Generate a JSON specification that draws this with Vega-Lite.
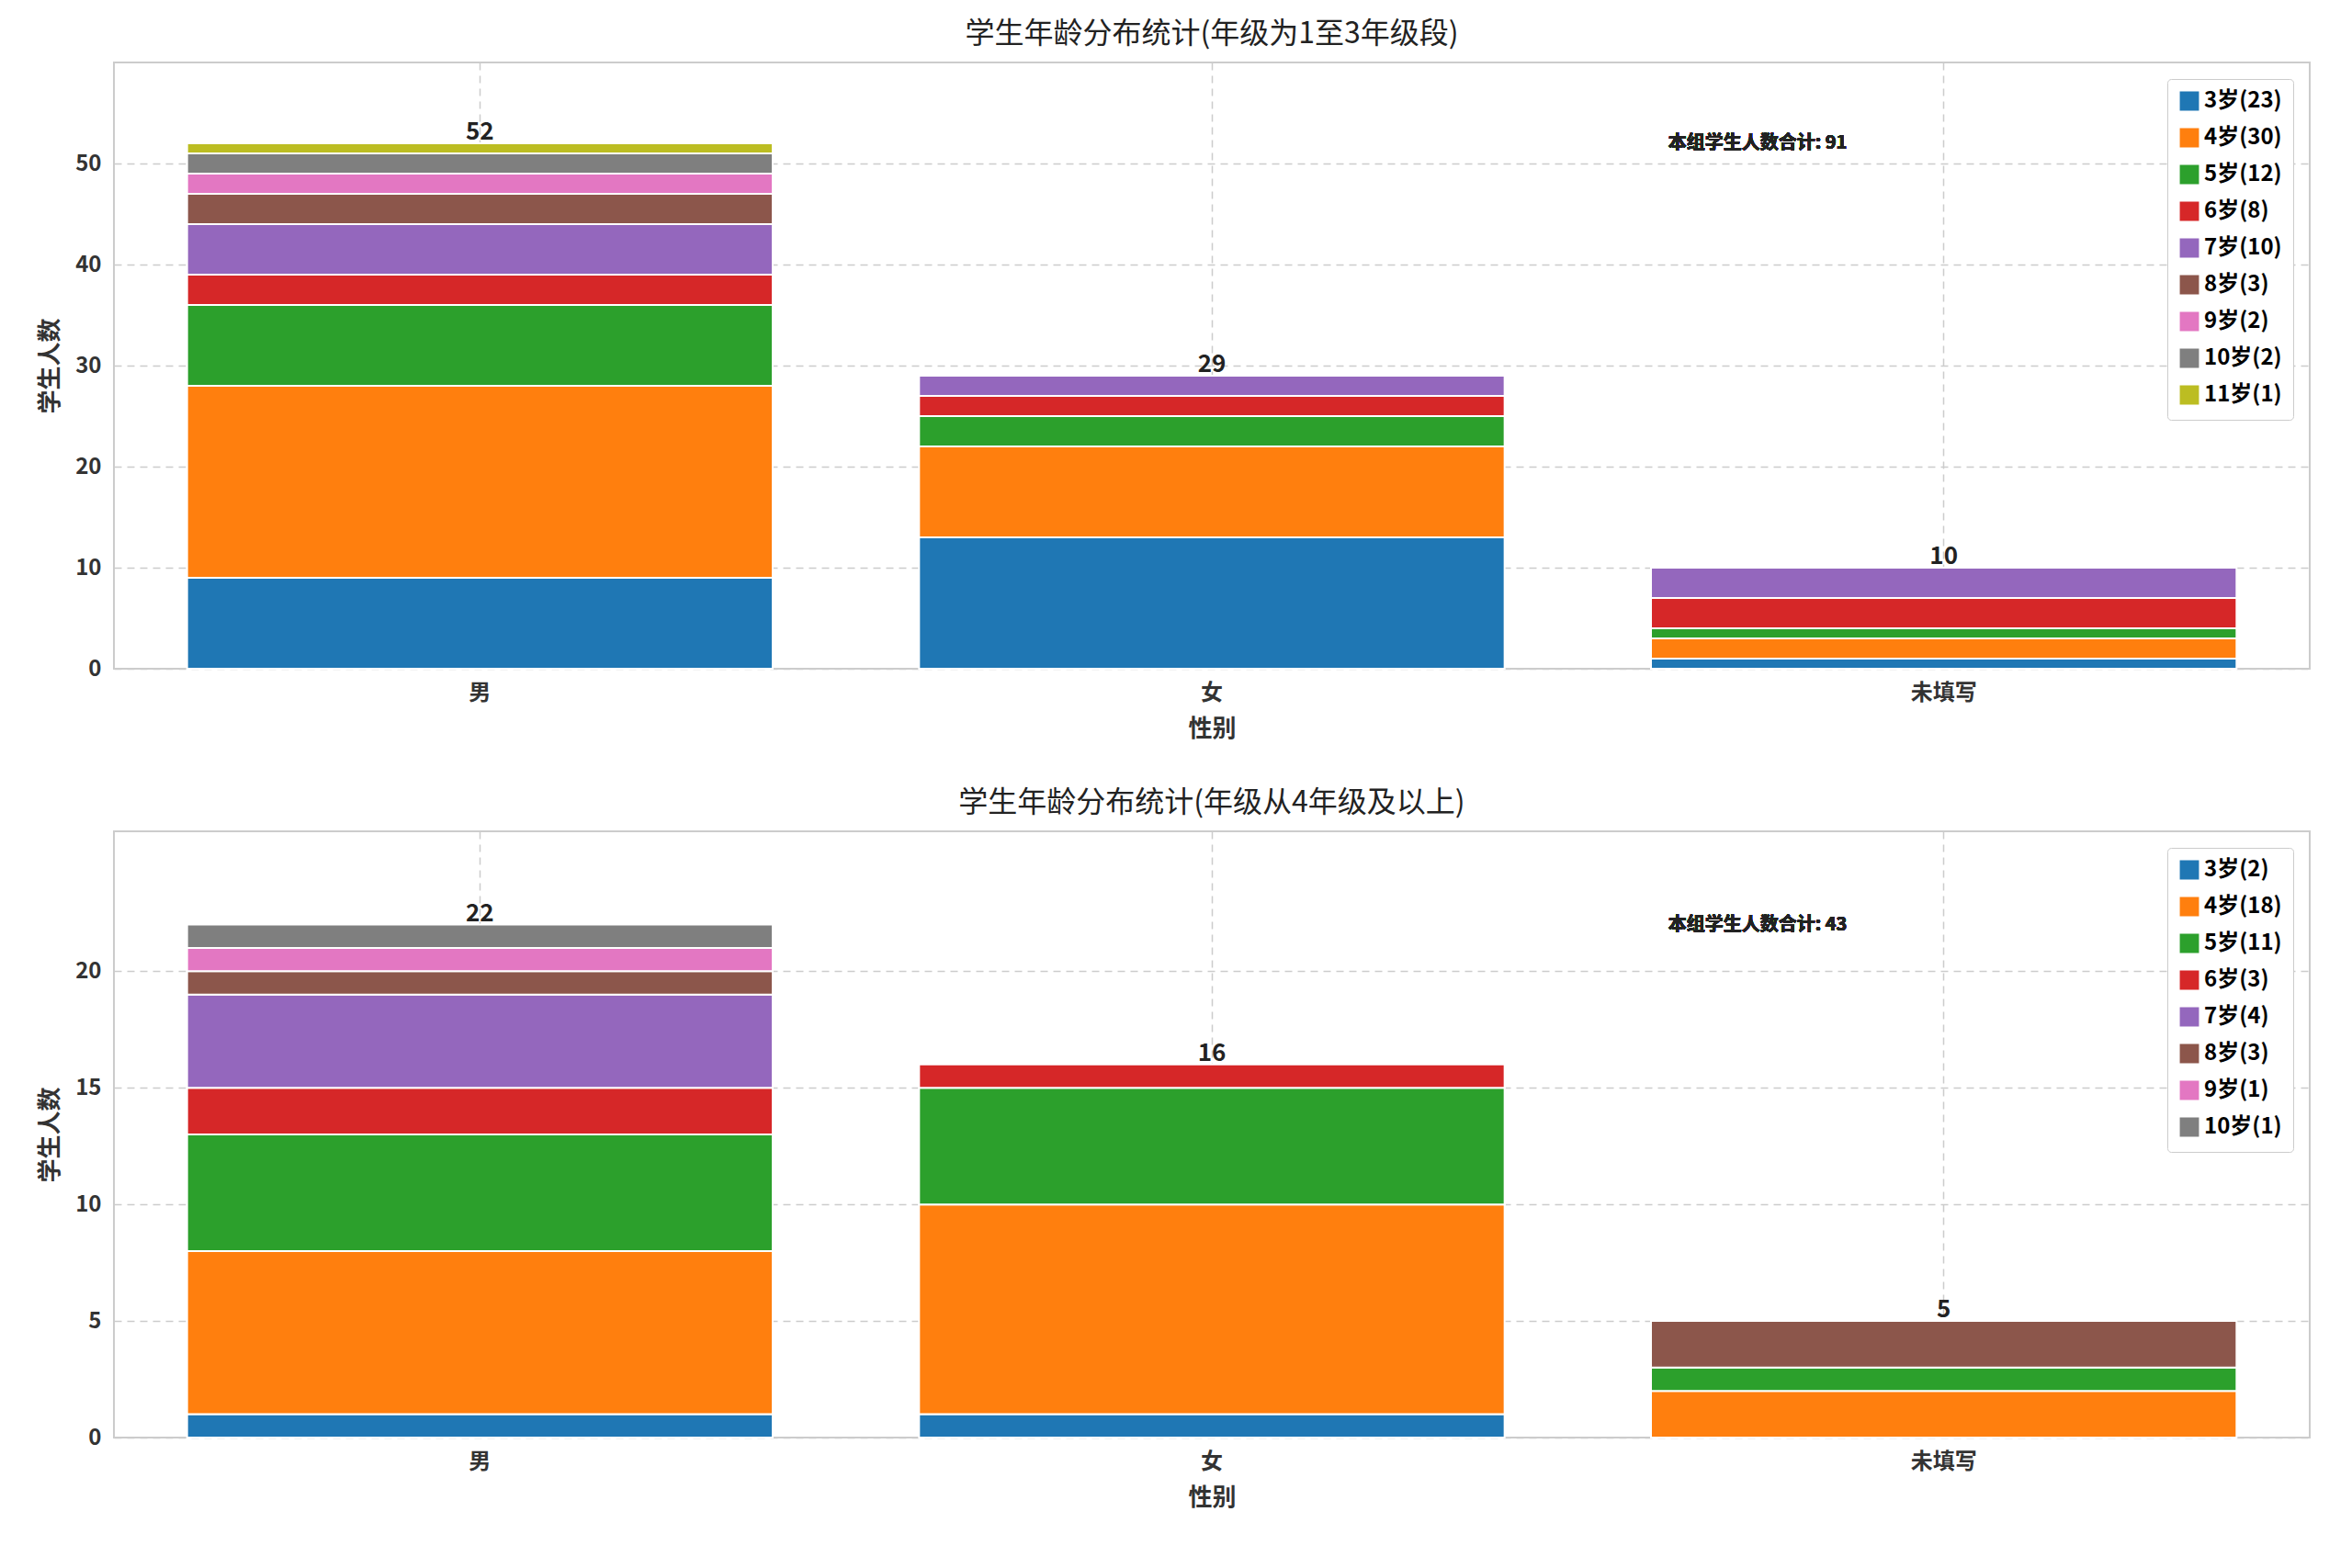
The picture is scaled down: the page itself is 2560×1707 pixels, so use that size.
{
"$schema":"https://vega.github.io/schema/vega-lite/v6.json",
"padding":{"left":40,"top":20,"right":15,"bottom":10},
"config":{"font":"Noto Sans CJK SC","view":{"stroke":"#cccccc","strokeWidth":2},
"axis":{"labelFontSize":24,"labelFontWeight":"bold","labelColor":"#333","titleFontSize":26,"titleFontWeight":"bold","titleColor":"#333","gridDash":[8,6],"gridColor":"#cccccc","gridWidth":1.5,"domain":false,"ticks":false,"labelPadding":14,"titlePadding":14},
"title":{"fontSize":32,"fontWeight":"normal","color":"#222","offset":14},
"legend":{"labelFontSize":24,"labelFontWeight":"bold","orient":"top-right","fillColor":"white","strokeColor":"#cccccc","padding":12,"symbolType":"square","symbolSize":500,"rowPadding":10,"title":null,"cornerRadius":4}},
"spacing":50,
"vconcat":[
{"title":"学生年龄分布统计(年级为1至3年级段)","width":2390,"height":660,
"data":{"values":[
{"c":"男","a":3,"n":9,"l":"3岁(23)"},{"c":"男","a":4,"n":19,"l":"4岁(30)"},{"c":"男","a":5,"n":8,"l":"5岁(12)"},{"c":"男","a":6,"n":3,"l":"6岁(8)"},{"c":"男","a":7,"n":5,"l":"7岁(10)"},{"c":"男","a":8,"n":3,"l":"8岁(3)"},{"c":"男","a":9,"n":2,"l":"9岁(2)"},{"c":"男","a":10,"n":2,"l":"10岁(2)"},{"c":"男","a":11,"n":1,"l":"11岁(1)"},
{"c":"女","a":3,"n":13,"l":"3岁(23)"},{"c":"女","a":4,"n":9,"l":"4岁(30)"},{"c":"女","a":5,"n":3,"l":"5岁(12)"},{"c":"女","a":6,"n":2,"l":"6岁(8)"},{"c":"女","a":7,"n":2,"l":"7岁(10)"},
{"c":"未填写","a":3,"n":1,"l":"3岁(23)"},{"c":"未填写","a":4,"n":2,"l":"4岁(30)"},{"c":"未填写","a":5,"n":1,"l":"5岁(12)"},{"c":"未填写","a":6,"n":3,"l":"6岁(8)"},{"c":"未填写","a":7,"n":3,"l":"7岁(10)"}]},
"encoding":{"x":{"field":"c","type":"nominal","sort":["男","女","未填写"],"title":"性别","scale":{"paddingInner":0.2,"paddingOuter":0.1},"axis":{"labelAngle":0,"grid":true}}},
"layer":[
{"mark":{"type":"bar","stroke":"white","strokeWidth":2},"encoding":{"y":{"field":"n","type":"quantitative","aggregate":"sum","stack":"zero","title":"学生人数","scale":{"domain":[0,57.2]},"axis":{"values":[0,10,20,30,40,50]}},"color":{"field":"l","type":"nominal","scale":{"domain":["3岁(23)","4岁(30)","5岁(12)","6岁(8)","7岁(10)","8岁(3)","9岁(2)","10岁(2)","11岁(1)"],"range":["#1f77b4","#ff7f0e","#2ca02c","#d62728","#9467bd","#8c564b","#e377c2","#7f7f7f","#bcbd22"]}},"order":{"field":"a","type":"quantitative"}}},
{"transform":[{"aggregate":[{"op":"sum","field":"n","as":"t"}],"groupby":["c"]}],"mark":{"type":"text","fontSize":26,"fontWeight":"bold","dy":-12,"color":"#222"},"encoding":{"y":{"field":"t","type":"quantitative"},"text":{"field":"t"}}},
{"mark":{"type":"text","fontSize":20,"fontWeight":"bold","align":"left","dx":-300,"color":"#222"},"encoding":{"x":{"datum":"未填写"},"y":{"datum":52},"text":{"value":"本组学生人数合计: 91"}}}
]},
{"title":"学生年龄分布统计(年级从4年级及以上)","width":2390,"height":660,
"data":{"values":[
{"c":"男","a":3,"n":1,"l":"3岁(2)"},{"c":"男","a":4,"n":7,"l":"4岁(18)"},{"c":"男","a":5,"n":5,"l":"5岁(11)"},{"c":"男","a":6,"n":2,"l":"6岁(3)"},{"c":"男","a":7,"n":4,"l":"7岁(4)"},{"c":"男","a":8,"n":1,"l":"8岁(3)"},{"c":"男","a":9,"n":1,"l":"9岁(1)"},{"c":"男","a":10,"n":1,"l":"10岁(1)"},
{"c":"女","a":3,"n":1,"l":"3岁(2)"},{"c":"女","a":4,"n":9,"l":"4岁(18)"},{"c":"女","a":5,"n":5,"l":"5岁(11)"},{"c":"女","a":6,"n":1,"l":"6岁(3)"},
{"c":"未填写","a":4,"n":2,"l":"4岁(18)"},{"c":"未填写","a":5,"n":1,"l":"5岁(11)"},{"c":"未填写","a":8,"n":2,"l":"8岁(3)"}]},
"encoding":{"x":{"field":"c","type":"nominal","sort":["男","女","未填写"],"title":"性别","scale":{"paddingInner":0.2,"paddingOuter":0.1},"axis":{"labelAngle":0,"grid":true}}},
"layer":[
{"mark":{"type":"bar","stroke":"white","strokeWidth":2},"encoding":{"y":{"field":"n","type":"quantitative","aggregate":"sum","stack":"zero","title":"学生人数","scale":{"domain":[0,24.2]},"axis":{"values":[0,5,10,15,20]}},"color":{"field":"l","type":"nominal","scale":{"domain":["3岁(2)","4岁(18)","5岁(11)","6岁(3)","7岁(4)","8岁(3)","9岁(1)","10岁(1)"],"range":["#1f77b4","#ff7f0e","#2ca02c","#d62728","#9467bd","#8c564b","#e377c2","#7f7f7f"]}},"order":{"field":"a","type":"quantitative"}}},
{"transform":[{"aggregate":[{"op":"sum","field":"n","as":"t"}],"groupby":["c"]}],"mark":{"type":"text","fontSize":26,"fontWeight":"bold","dy":-12,"color":"#222"},"encoding":{"y":{"field":"t","type":"quantitative"},"text":{"field":"t"}}},
{"mark":{"type":"text","fontSize":20,"fontWeight":"bold","align":"left","dx":-300,"color":"#222"},"encoding":{"x":{"datum":"未填写"},"y":{"datum":22},"text":{"value":"本组学生人数合计: 43"}}}
]}
],
"resolve":{"scale":{"color":"independent"},"legend":{"color":"independent"}}
}
